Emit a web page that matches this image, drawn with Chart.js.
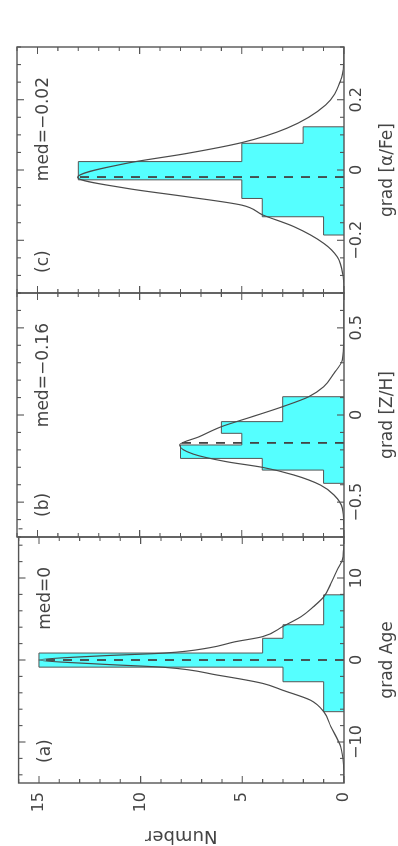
<!DOCTYPE html>
<html><head><meta charset="utf-8">
<script src="https://cdn.jsdelivr.net/npm/chart.js@4.4.1/dist/chart.umd.min.js"></script>
<style>
html,body{margin:0;padding:0;background:#fff;overflow:hidden;width:398px;height:846px;}
#rot{position:absolute;left:0;top:846px;width:846px;height:398px;transform-origin:0 0;transform:rotate(-90deg);}
#rot canvas{position:absolute;top:0;}
</style></head><body>
<div id="rot">
<canvas id="ca" width="320" height="398" style="left:0px"></canvas>
<canvas id="cb" width="266" height="398" style="left:298px"></canvas>
<canvas id="cc" width="304" height="398" style="left:542px"></canvas>
</div>
<script>
// ---- data ----
const panelLabels = ['(a)', '(b)', '(c)'];
const xTitles = ['grad Age', 'grad [Z/H]', 'grad [α/Fe]'];
const yTitle = 'Number';
const medianLabels = ['med=0', 'med=−0.16', 'med=−0.02'];
const medians = [0, -0.16, -0.02];
const medianHeights = [15, 8, 13];

const binEdgesA = [-6.3, -2.65, -0.87, 0.85, 2.65, 4.3, 7.95];
const countsA = [1, 3, 15, 4, 3, 1];
const binEdgesB = [-0.392, -0.316, -0.249, -0.172, -0.105, -0.038, 0.105];
const countsB = [1, 4, 8, 5, 6, 3];
const binEdgesC = [-0.185, -0.133, -0.081, -0.028, 0.024, 0.076, 0.123];
const countsC = [1, 4, 5, 13, 5, 2];

const curveAx = [-15, -13, -10.6, -8.1, -6.3, -4.9, -3.7, -2.85, -1.85, -0.9, -0.5, 0, 0.5, 0.85, 1.5, 2.2, 2.85, 4.1, 5.3, 6.5, 7.7, 9.3, 11, 12.2, 13.5, 15];
const curveAy = [0, 0.02, 0.16, 0.65, 1.0, 1.65, 3.0, 4.0, 6.2, 8.8, 12, 15, 12, 8.8, 6.6, 5.4, 4.0, 3.0, 2.1, 1.5, 1.0, 0.65, 0.33, 0.08, 0.02, 0];
const curveBx = [-0.7, -0.64, -0.535, -0.459, -0.402, -0.344, -0.300, -0.268, -0.224, -0.172, -0.125, -0.067, -0.01, 0.048, 0.105, 0.162, 0.239, 0.316, 0.45, 0.7];
const curveBy = [0, 0.01, 0.08, 0.49, 1.15, 2.46, 4.0, 5.74, 7.38, 8.05, 7.1, 6.0, 4.5, 3.0, 1.72, 1.0, 0.49, 0.08, 0.01, 0];
const curveCx = [-0.35, -0.3, -0.247, -0.209, -0.161, -0.128, -0.1, -0.076, -0.052, -0.021, 0.019, 0.047, 0.078, 0.119, 0.185, 0.256, 0.3, 0.35];
const curveCy = [0, 0.05, 0.33, 0.98, 2.46, 3.97, 5.0, 7.7, 10.65, 13.03, 10.65, 7.7, 5.0, 2.79, 0.9, 0.16, 0.02, 0];

// axis settings
const xMin = [-15, -0.7, -0.35];
const xMax = [15, 0.7, 0.35];
const xMinorStep = [2, 0.1, 0.05];
const xMajorStep = [10, 0.5, 0.2];
const yMin = 0, yMax = 16, yMinorStep = 1, yMajorStep = 5;

// ---- helpers ----
const CYAN = '#55FFFF';
const INK = '#444';
Chart.defaults.font.family = '"DejaVu Sans", sans-serif';
Chart.defaults.color = INK;

function isMajor(v, step) { const r = v / step; return Math.abs(r - Math.round(r)) < 1e-6; }
function stepList(min, max, step) {
  const out = []; const n = Math.round((max - min) / step);
  for (let i = 0; i <= n; i++) out.push(+(min + i * step).toFixed(6));
  return out;
}
function fmt(v) { return String(+v.toFixed(4)).replace('-', '−'); }
function histPoints(edges, counts) {
  const pts = [{x: edges[0], y: 0}];
  counts.forEach((c, i) => pts.push({x: edges[i], y: c}));
  pts.push({x: edges[edges.length - 1], y: counts[counts.length - 1]});
  pts.push({x: edges[edges.length - 1], y: 0});
  return pts;
}
function zip(xs, ys) { return xs.map((x, i) => ({x, y: ys[i]})); }

const framePlugin = {
  id: 'frame',
  afterDatasetsDraw(chart, args, o) {
    const {ctx, chartArea: a, scales: {x, y}} = chart;
    ctx.save();
    ctx.strokeStyle = '#555';
    ctx.lineWidth = 1.1;
    ctx.beginPath();
    x.ticks.forEach(t => {
      const p = x.getPixelForValue(t.value);
      const len = isMajor(t.value, o.xMajor) ? 7 : 4;
      ctx.moveTo(p, a.bottom); ctx.lineTo(p, a.bottom - len);
      ctx.moveTo(p, a.top); ctx.lineTo(p, a.top + len);
    });
    y.ticks.forEach(t => {
      const p = y.getPixelForValue(t.value);
      const len = isMajor(t.value, yMajorStep) ? 7 : 4;
      ctx.moveTo(a.left, p); ctx.lineTo(a.left + len, p);
      ctx.moveTo(a.right, p); ctx.lineTo(a.right - len, p);
    });
    ctx.stroke();
    ctx.lineWidth = 1.4;
    ctx.strokeRect(a.left, a.top, a.right - a.left, a.bottom - a.top);
    ctx.fillStyle = INK;
    ctx.font = '17px "DejaVu Sans"';
    ctx.textBaseline = 'middle';
    ctx.textAlign = 'left';
    ctx.fillText(o.panel, a.left + 20, a.top + 27);
    ctx.textAlign = 'right';
    ctx.fillText(o.med, a.right - 30, a.top + 27);
    ctx.restore();
  }
};

function makeChart(id, i, edges, counts, cx, cy, pad, yWidth, showY) {
  const xTicks = stepList(Math.ceil(xMin[i] / xMinorStep[i] - 1e-9) * xMinorStep[i], xMax[i], xMinorStep[i]);
  const yTicks = stepList(yMin, yMax, yMinorStep);
  return new Chart(document.getElementById(id), {
    type: 'line',
    data: {
      datasets: [
        { data: zip(cx, cy), borderColor: '#4a4a4a', borderWidth: 1.2, pointRadius: 0, fill: false,
          cubicInterpolationMode: 'monotone', order: 1 },
        { data: [{x: medians[i], y: 0}, {x: medians[i], y: medianHeights[i]}], borderColor: INK,
          borderWidth: 1.8, borderDash: [9, 8], pointRadius: 0, fill: false, order: 2 },
        { data: histPoints(edges, counts), stepped: 'before', fill: 'origin', backgroundColor: CYAN,
          borderColor: '#555', borderWidth: 1, pointRadius: 0, order: 3 }
      ]
    },
    options: {
      responsive: false, animation: false, events: [],
      layout: { padding: pad },
      plugins: { legend: { display: false }, tooltip: { enabled: false },
        frame: { panel: panelLabels[i], med: medianLabels[i], xMajor: xMajorStep[i] } },
      scales: {
        x: {
          type: 'linear', min: xMin[i], max: xMax[i],
          grid: { display: false, drawTicks: false }, border: { display: false },
          afterBuildTicks: ax => { ax.ticks = xTicks.map(v => ({value: v})); },
          afterFit: ax => { ax.height = 54; },
          ticks: { autoSkip: false, maxRotation: 0, minRotation: 0, padding: 3, font: { size: 16 },
            callback: v => isMajor(v, xMajorStep[i]) ? fmt(v) : '' },
          title: { display: true, text: xTitles[i], font: { size: 17 }, padding: { top: 0, bottom: 0 } }
        },
        y: {
          type: 'linear', min: yMin, max: yMax,
          grid: { display: false, drawTicks: false }, border: { display: false },
          afterBuildTicks: ax => { ax.ticks = yTicks.map(v => ({value: v})); },
          afterFit: ax => { ax.width = yWidth; },
          ticks: { display: showY, autoSkip: false, padding: 9, font: { size: 16 },
            callback: v => isMajor(v, yMajorStep) ? fmt(v) : '' },
          title: { display: showY, text: yTitle, font: { size: 18 }, padding: { top: 0, bottom: 0 } }
        }
      }
    },
    plugins: [framePlugin]
  });
}

makeChart('ca', 0, binEdgesA, countsA, curveAx, curveAy, {left: 0, right: 11, top: 17, bottom: 0}, 63, true);
makeChart('cb', 1, binEdgesB, countsB, curveBx, curveBy, {left: 11, right: 11, top: 17, bottom: 0}, 0, false);
makeChart('cc', 2, binEdgesC, countsC, curveCx, curveCy, {left: 11, right: 47, top: 17, bottom: 0}, 0, false);
</script>
</body></html>
